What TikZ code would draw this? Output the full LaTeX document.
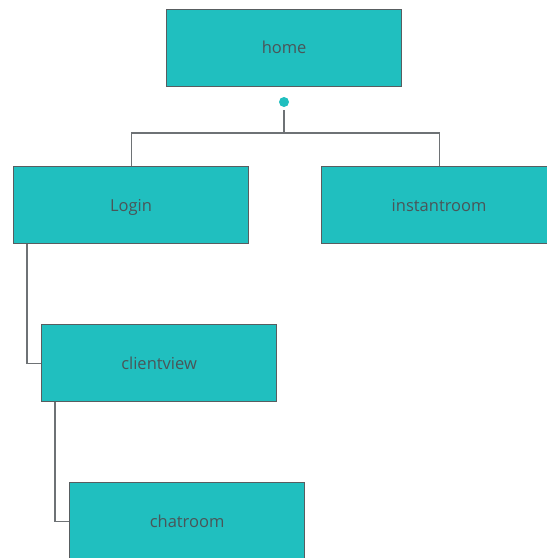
\documentclass[tikz,border=0pt]{standalone}
\usepackage{fontspec}
\setmainfont{Open Sans}
\definecolor{boxfill}{HTML}{20BFBF}
\definecolor{boxline}{HTML}{585D60}
\definecolor{linkline}{HTML}{6E7275}
\definecolor{labeltext}{HTML}{4A5558}
\begin{document}
\begin{tikzpicture}[x=1pt,y=-1pt,
  pagebox/.style={draw=boxline,line width=1.2pt,fill=boxfill,minimum width=235pt,minimum height=77pt,inner sep=0pt,text height=12.5pt,text depth=0pt,anchor=north west,text=labeltext,font=\fontsize{16.5}{19}\selectfont},
  link/.style={draw=linkline,line width=1.2pt}]
\useasboundingbox (0,0) rectangle (547,558);
\node[pagebox] (home) at (166,8.5) {home};
\node[pagebox] (login) at (13,166) {Login};
\node[pagebox] (instant) at (321,166) {instantroom};
\node[pagebox] (client) at (41,324) {clientview};
\node[pagebox] (chat) at (69,482) {chatroom};
\coordinate (fork) at (284,133);
\coordinate (dotc) at (284,102);
\fill[boxfill] (dotc) circle (5pt);
\draw[link] ([yshift=-8pt]dotc) -- (fork);
\draw[link] (fork) -| (login.north);
\draw[link] (fork) -| (instant.north);
\draw[link] ([xshift=14pt]login.south west) |- (client.west);
\draw[link] ([xshift=14pt]client.south west) |- (chat.west);
\end{tikzpicture}
\end{document}
